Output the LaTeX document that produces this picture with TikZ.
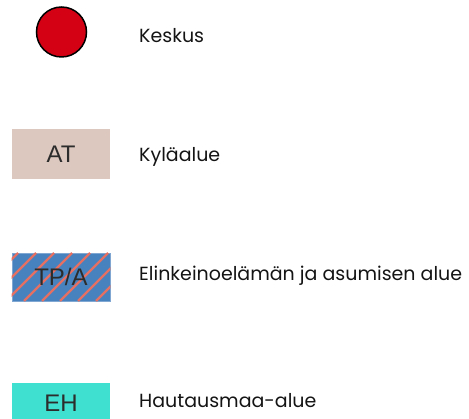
\documentclass[tikz,border=0pt]{standalone}
\usepackage{fontspec}
\setmainfont{Poppins}
\newfontfamily\boxfont{Liberation Sans}
\definecolor{keskusred}{RGB}{212,0,20}
\definecolor{atfill}{RGB}{220,200,190}
\definecolor{tpfill}{RGB}{72,130,190}
\definecolor{tpstripe}{RGB}{228,112,100}
\definecolor{ehfill}{RGB}{64,224,208}
\definecolor{labeltext}{RGB}{20,20,20}
\begin{document}
\begin{tikzpicture}[x=1pt,y=-1pt,
  legendbox/.style={minimum width=98pt,minimum height=50pt,inner sep=0pt,
    font=\boxfont\fontsize{24}{26}\selectfont,text=labeltext!90},
  legendlabel/.style={anchor=west,inner sep=0pt,text=labeltext,
    font=\fontsize{19}{22}\selectfont}]
\useasboundingbox (0,0) rectangle (469,419);
% Keskus
\node[circle,draw=black,line width=1.5pt,fill=keskusred,minimum size=50pt,inner sep=0pt] (kes) at (61.5,32) {};
\node[legendlabel] (keslab) at (139,36) {Keskus};
% AT
\node[legendbox,fill=atfill] (at) at (61,154) {AT};
\node[legendlabel] (atlab) at (139,157) {Kyläalue};
% TP/A
\node[legendbox,fill=tpfill,minimum height=48pt,draw=tpfill!70!white,line width=0.6pt] (tp) at (61,277) {};
\begin{scope}
\clip (tp.south west) rectangle (tp.north east);
\foreach \i in {-60,-42,...,120}
  \draw[tpstripe,line width=2.2pt] (12+\i,301) -- (60+\i,253);
\end{scope}
\node[legendbox] (tptext) at (61,277) {TP/A};
\node[legendlabel] (tplab) at (139,276) {Elinkeinoelämän ja asumisen alue};
% EH
\node[legendbox,fill=ehfill,minimum height=40pt] (eh) at (61,403) {EH};
\node[legendlabel] (ehlab) at (139,401) {Hautausmaa-alue};
\end{tikzpicture}
\end{document}
